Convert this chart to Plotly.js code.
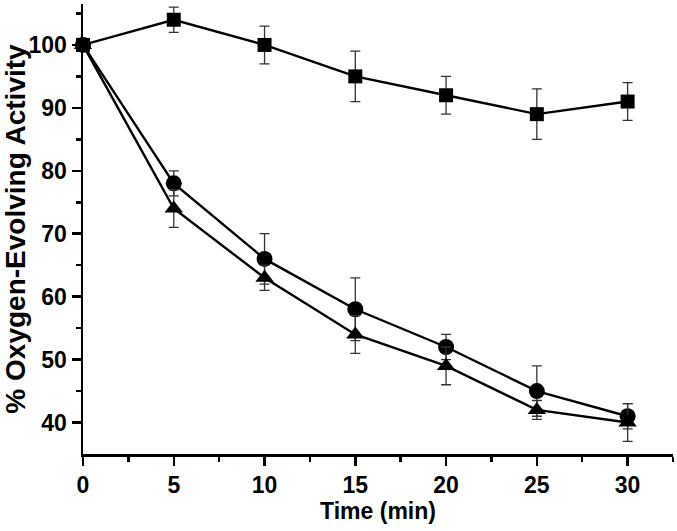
<!DOCTYPE html>
<html>
<head>
<meta charset="utf-8">
<script src="https://cdn.plot.ly/plotly-3.0.1.min.js"></script>
<style>html,body{margin:0;padding:0;background:#fff;}#chart{width:677px;height:531px;}</style>
</head>
<body>
<div id="chart"></div>
<script>
const time = [0, 5, 10, 15, 20, 25, 30];
const squareVals = [100, 104, 100, 95, 92, 89, 91];
const squareErr  = [0, 2, 3, 4, 3, 4, 3];
const circleVals = [100, 78, 66, 58, 52, 45, 41];
const circleErr  = [0, 2, 4, 5, 2, 4, 2];
const triangleVals = [100, 74, 63, 54, 49, 42, 40];
const triangleErr  = [0, 3, 2, 3, 3, 1.5, 3];

function series(y, err, symbol, size) {
  return {
    x: time, y: y, type: 'scatter', mode: 'lines+markers', cliponaxis: false,
    line: {color: '#000', width: 2.4},
    marker: {symbol: symbol, size: size, color: '#000'},
    error_y: {type: 'data', array: err, visible: true, color: '#333', thickness: 1.3, width: 5}
  };
}
const data = [
  series(squareVals, squareErr, 'square', 14),
  series(circleVals, circleErr, 'circle', 16),
  series(triangleVals, triangleErr, 'triangle-up', 16)
];
function f(size) { return {family: 'Liberation Sans', size: size, color: '#000', weight: 700}; }
const layout = {
  width: 677, height: 531,
  margin: {l: 83, r: 4, t: 4, b: 77},
  paper_bgcolor: '#fff', plot_bgcolor: '#fff',
  showlegend: false,
  font: f(23),
  xaxis: {
    range: [0, 32.5], tickvals: [0, 5, 10, 15, 20, 25, 30],
    showgrid: false, zeroline: false, showline: true, linecolor: '#000', linewidth: 2.5,
    ticks: 'outside', ticklen: 9, tickwidth: 2.5, tickcolor: '#000',
    minor: {tickvals: [2.5, 7.5, 12.5, 17.5, 22.5, 27.5, 32.5], ticks: 'outside', ticklen: 5, tickwidth: 2.5, tickcolor: '#000'},
    tickfont: f(23),
    title: {text: 'Time (min)', font: f(23), standoff: 4}
  },
  yaxis: {
    range: [35, 106.5], tickvals: [40, 50, 60, 70, 80, 90, 100],
    showgrid: false, zeroline: false, showline: true, linecolor: '#000', linewidth: 2.5,
    ticks: 'outside', ticklen: 9, tickwidth: 2.5, tickcolor: '#000',
    minor: {tickvals: [45, 55, 65, 75, 85, 95, 105], ticks: 'outside', ticklen: 5, tickwidth: 2.5, tickcolor: '#000'},
    tickfont: f(23),
    title: {text: '% Oxygen-Evolving Activity', font: f(28), standoff: 4}
  }
};
Plotly.newPlot('chart', data, layout, {displayModeBar: false, staticPlot: true});
</script>
</body>
</html>
